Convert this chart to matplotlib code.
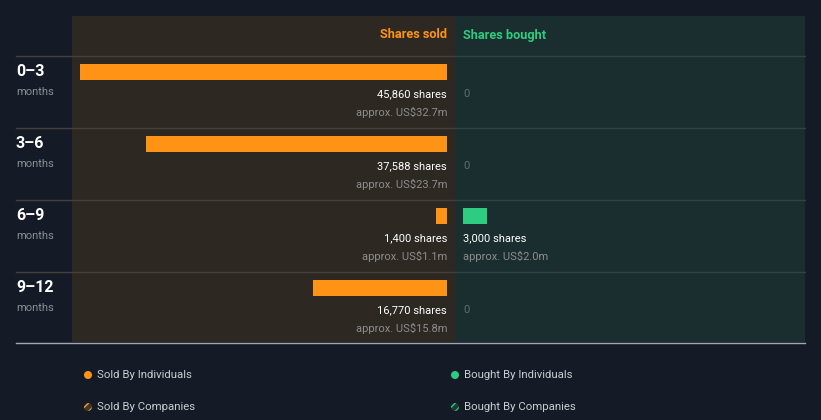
import matplotlib
matplotlib.use("Agg")
import matplotlib.pyplot as plt
from matplotlib.patches import Rectangle, Circle

plt.rcParams['font.family'] = ['Roboto', 'DejaVu Sans']

periods = ["0–3", "3–6", "6–9", "9–12"]
sold_shares = [45860, 37588, 1400, 16770]
sold_value = ["US$32.7m", "US$23.7m", "US$1.1m", "US$15.8m"]
bought_shares = [0, 0, 3000, 0]
bought_value = [None, None, "US$2.0m", None]
legend_labels = ["Sold By Individuals", "Bought By Individuals", "Sold By Companies", "Bought By Companies"]

BG = "#151b26"
SOLD_BG = "#2e2823"
BOUGHT_BG = "#1a2d2f"
ORANGE = "#ff9316"
GREEN = "#2ecc80"

W, H = 821, 420
fig = plt.figure(figsize=(W / 100, H / 100), dpi=100, facecolor=BG)

# background axes in pixel coordinates
bg = fig.add_axes([0, 0, 1, 1])
bg.set_xlim(0, W)
bg.set_ylim(H, 0)
bg.axis("off")
bg.set_facecolor(BG)

bg.add_patch(Rectangle((72, 16), 383, 326, color=SOLD_BG, lw=0, zorder=0))
bg.add_patch(Rectangle((455, 16), 350, 326, color=BOUGHT_BG, lw=0, zorder=0))

bg.text(447, 35, "Shares sold", color=ORANGE, fontsize=9.2, fontweight="bold", ha="right", va="center")
bg.text(463, 35, "Shares bought", color=GREEN, fontsize=9.2, fontweight="bold", ha="left", va="center")

row_top = 56
row_h = 72
for i in range(4):
    y0 = row_top + i * row_h
    bg.plot([16, 455], [y0, y0], color="#45403b", lw=1, zorder=1)
    bg.plot([455, 805], [y0, y0], color="#30443f", lw=1, zorder=1)
    bg.text(16, y0 + 15, periods[i], color="white", fontsize=11.5, fontweight="bold", ha="left", va="center")
    bg.text(16, y0 + 36, "months", color="#8a8f96", fontsize=8, ha="left", va="center")
    bg.text(447, y0 + 38, f"{sold_shares[i]:,} shares", color="white", fontsize=8, ha="right", va="center")
    bg.text(447, y0 + 56, f"approx. {sold_value[i]}", color="#8d8d8d", fontsize=8, ha="right", va="center")
    if bought_shares[i] > 0:
        bg.text(463, y0 + 38, f"{bought_shares[i]:,} shares", color="white", fontsize=8, ha="left", va="center")
        bg.text(463, y0 + 56, f"approx. {bought_value[i]}", color="#8d8d8d", fontsize=8, ha="left", va="center")
    else:
        bg.text(463, y0 + 38, "0", color="#5e6e6c", fontsize=8, ha="left", va="center")

bg.plot([16, 805], [343, 343], color="#a0a7ae", lw=1, zorder=2)

# bars: sold axis (right-to-left) and bought axis (left-to-right)
maxv = max(sold_shares)
ax_bottom = (H - (row_top + 4 * row_h)) / H
ax_height = 4 * row_h / H
ax_s = fig.add_axes([80 / W, ax_bottom, 367 / W, ax_height])
ax_b = fig.add_axes([463 / W, ax_bottom, 367 / W, ax_height])
ypos = [i + 16 / 72 for i in range(4)]
for ax in (ax_s, ax_b):
    ax.set_ylim(4, 0)
    ax.axis("off")
    ax.patch.set_alpha(0)
ax_s.set_xlim(maxv, 0)
ax_b.set_xlim(0, maxv)
ax_s.barh(ypos, sold_shares, height=16 / 72, color=ORANGE, lw=0)
ax_b.barh(ypos, bought_shares, height=16 / 72, color=GREEN, lw=0)

# legend
leg_pos = [(88, 375), (455, 375), (88, 407), (455, 407)]
leg_cols = [ORANGE, GREEN, ORANGE, GREEN]
for k, ((x, y), c, lab) in enumerate(zip(leg_pos, leg_cols, legend_labels)):
    if k < 2:
        bg.add_patch(Circle((x, y), 4, color=c, lw=0))
    else:
        bg.add_patch(Circle((x, y), 4, facecolor="#3a3a30" if k == 2 else "#1f3a33", lw=0))
        bg.add_patch(Circle((x, y), 4, facecolor="none", edgecolor=c, hatch="////", lw=0))
    bg.text(x + 9, y, lab, color="#c9cdd2", fontsize=8.2, ha="left", va="center")

fig.savefig("out.png", dpi=100, facecolor=BG)
